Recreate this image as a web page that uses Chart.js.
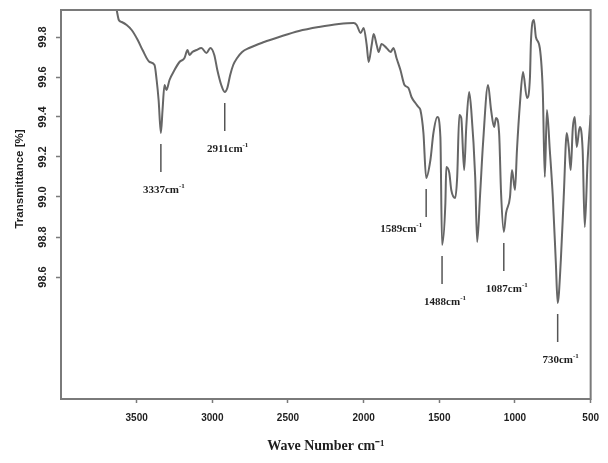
<!DOCTYPE html>
<html>
<head>
<meta charset="utf-8">
<script src="https://cdn.jsdelivr.net/npm/chart.js@4.4.1/dist/chart.umd.min.js"></script>
<style>
    html, body { margin: 0; padding: 0; background: #fff; }
    #wrap { width: 608px; height: 463px; }
</style>
</head>
<body>
<div id="wrap"><canvas id="ir"></canvas></div>
<script>
(function () {
    "use strict";

    // spectrum (cm-1, transmittance)
    var wavenumbers = [
        3632, 3618, 3599, 3566, 3533, 3493, 3461, 3414, 3382, 3368,
        3355, 3340, 3329, 3316, 3303, 3283, 3250, 3217, 3184, 3164,
        3151, 3132, 3105, 3072, 3039, 3013, 2987, 2967, 2941, 2918,
        2901, 2882, 2862, 2836, 2803, 2757, 2658, 2559, 2428, 2296,
        2164, 2066, 2046, 2020, 2000, 1980, 1967, 1947, 1934, 1914,
        1901, 1882, 1849, 1822, 1803, 1783, 1757, 1730, 1704, 1684,
        1658, 1638, 1625, 1605, 1587, 1559, 1539, 1513, 1493, 1482,
        1460, 1454, 1434, 1421, 1395, 1382, 1368, 1355, 1336, 1322,
        1303, 1289, 1263, 1250, 1230, 1211, 1178, 1158, 1138, 1125,
        1105, 1092, 1074, 1059, 1033, 1020, 1000, 987, 967, 947,
        921, 901, 895, 875, 862, 836, 816, 803, 789, 770,
        750, 730, 718, 697, 678, 658, 645, 632, 618, 605,
        592, 572, 553, 539, 520, 500
    ];
    var transmittance = [
        99.935, 99.885, 99.875, 99.86, 99.835, 99.785, 99.735, 99.675, 99.66, 99.585,
        99.485, 99.32, 99.435, 99.56, 99.535, 99.585, 99.635, 99.675, 99.695, 99.735,
        99.71, 99.725, 99.735, 99.745, 99.72, 99.745, 99.71, 99.635, 99.56, 99.525,
        99.545, 99.61, 99.66, 99.695, 99.725, 99.745, 99.775, 99.80, 99.83, 99.85,
        99.865, 99.87, 99.86, 99.82, 99.845, 99.76, 99.675, 99.76, 99.815, 99.76,
        99.725, 99.765, 99.745, 99.725, 99.745, 99.695, 99.635, 99.56, 99.545, 99.50,
        99.47, 99.45, 99.435, 99.32, 99.095, 99.185, 99.32, 99.40, 99.30, 98.76,
        98.97, 99.15, 99.12, 99.035, 98.995, 99.10, 99.41, 99.395, 99.135, 99.35,
        99.525, 99.435, 99.10, 98.775, 99.02, 99.27, 99.56, 99.435, 99.35, 99.395,
        99.32, 99.02, 98.825, 98.92, 99.00, 99.135, 99.035, 99.235, 99.47, 99.625,
        99.495, 99.60, 99.77, 99.885, 99.80, 99.745, 99.52, 99.10, 99.435, 99.235,
        99.00, 98.67, 98.47, 98.685, 99.00, 99.32, 99.25, 99.135, 99.345, 99.40,
        99.25, 99.35, 99.235, 98.85, 99.185, 99.41
    ];

    var xTicks = [3500, 3000, 2500, 2000, 1500, 1000, 500];
    var yTicks = [99.8, 99.6, 99.4, 99.2, 99.0, 98.8, 98.6];
    var peakLabels = [3337, 2911, 1589, 1488, 1087, 730];

    var lineColor = "#666666";
    var frameColor = "#7a7a7a";
    var textColor = "#1e1e1e";

    function points() {
        return wavenumbers.map(function (w, i) {
            return { x: w, y: transmittance[i] };
        });
    }

    function troughNear(wn) {
        var best = -1;
        wavenumbers.forEach(function (w, i) {
            if (Math.abs(w - wn) <= 18 && (best < 0 || transmittance[i] < transmittance[best])) {
                best = i;
            }
        });
        return best;
    }

    function drawPeakText(ctx, main, x, y, align) {
        ctx.font = "bold 11px 'Liberation Serif'";
        var w1 = ctx.measureText(main).width;
        ctx.font = "bold 7px 'Liberation Serif'";
        var w2 = ctx.measureText("-1").width;
        var start = align === "right" ? x - w1 - w2 : x - (w1 + w2) / 2;
        ctx.textAlign = "left";
        ctx.textBaseline = "alphabetic";
        ctx.font = "bold 11px 'Liberation Serif'";
        ctx.fillText(main, start, y);
        ctx.font = "bold 7px 'Liberation Serif'";
        ctx.fillText("-1", start + w1, y - 5);
    }

    var overlay = {
        id: "overlay",
        afterDraw: function (chart) {
            var ctx = chart.ctx;
            var a = chart.chartArea;
            var xs = chart.scales.x;
            var ys = chart.scales.y;

            ctx.save();
            ctx.strokeStyle = frameColor;
            ctx.lineWidth = 2;
            ctx.strokeRect(a.left, a.top, a.right - a.left, a.bottom - a.top);

            // rotated y tick labels and title
            ctx.fillStyle = textColor;
            ctx.textAlign = "center";
            ctx.textBaseline = "middle";
            ctx.font = "bold 11px 'Liberation Sans'";
            yTicks.forEach(function (v) {
                ctx.save();
                ctx.translate(a.left - 18, ys.getPixelForValue(v));
                ctx.rotate(-Math.PI / 2);
                ctx.fillText(v.toFixed(1), 0, 0);
                ctx.restore();
            });
            ctx.save();
            ctx.translate(20, ys.getPixelForValue(99.09));
            ctx.rotate(-Math.PI / 2);
            ctx.font = "bold 11.5px 'Liberation Sans'";
            ctx.fillText("Transmittance [%]", 0, 0);
            ctx.restore();

            // peak markers
            ctx.strokeStyle = "#555";
            ctx.lineWidth = 1.5;
            peakLabels.forEach(function (wn) {
                var i = troughNear(wn);
                if (i < 0) {
                    return;
                }
                var px = xs.getPixelForValue(wavenumbers[i]);
                var py = ys.getPixelForValue(transmittance[i]);
                ctx.beginPath();
                ctx.moveTo(px, py + 11);
                ctx.lineTo(px, py + 39);
                ctx.stroke();
                if (wn === 1589) {
                    drawPeakText(ctx, wn + "cm", px - 4, py + 54, "right");
                } else {
                    drawPeakText(ctx, wn + "cm", px + 3, py + 60, "center");
                }
            });
            ctx.restore();
        }
    };

    new Chart(document.getElementById("ir").getContext("2d"), {
        type: "line",
        data: {
            datasets: [{
                data: points(),
                borderColor: lineColor,
                borderWidth: 2,
                pointRadius: 0,
                cubicInterpolationMode: "monotone",
                fill: false
            }]
        },
        options: {
            responsive: true,
            maintainAspectRatio: false,
            animation: false,
            events: [],
            layout: {
                padding: { top: 10, right: 13, left: 0, bottom: 0 }
            },
            plugins: {
                legend: { display: false },
                tooltip: { enabled: false }
            },
            scales: {
                x: {
                    type: "linear",
                    reverse: true,
                    min: 500,
                    max: 4000,
                    afterBuildTicks: function (scale) {
                        scale.ticks = xTicks.map(function (v) {
                            return { value: v };
                        });
                    },
                    afterFit: function (scale) {
                        scale.height = 64;
                    },
                    border: { display: false },
                    grid: {
                        drawOnChartArea: false,
                        tickLength: 4,
                        tickColor: frameColor,
                        tickWidth: 1.5
                    },
                    ticks: {
                        color: textColor,
                        padding: 9,
                        maxRotation: 0,
                        font: { family: "'Liberation Sans'", size: 10, weight: "bold" },
                        callback: function (v) {
                            return String(v);
                        }
                    },
                    title: {
                        display: true,
                        text: "Wave Number cm\u207B\u00B9",
                        color: textColor,
                        padding: { top: 0, bottom: 8 },
                        font: { family: "'Liberation Serif'", size: 14, weight: "bold" }
                    }
                },
                y: {
                    type: "linear",
                    min: 97.99,
                    max: 99.935,
                    afterBuildTicks: function (scale) {
                        scale.ticks = yTicks.map(function (v) {
                            return { value: v };
                        });
                    },
                    afterFit: function (scale) {
                        scale.width = 61;
                    },
                    border: { display: false },
                    grid: {
                        drawOnChartArea: false,
                        tickLength: 5,
                        tickColor: frameColor,
                        tickWidth: 1.5
                    },
                    ticks: { display: false }
                }
            }
        },
        plugins: [overlay]
    });
})();
</script>
</body>
</html>
